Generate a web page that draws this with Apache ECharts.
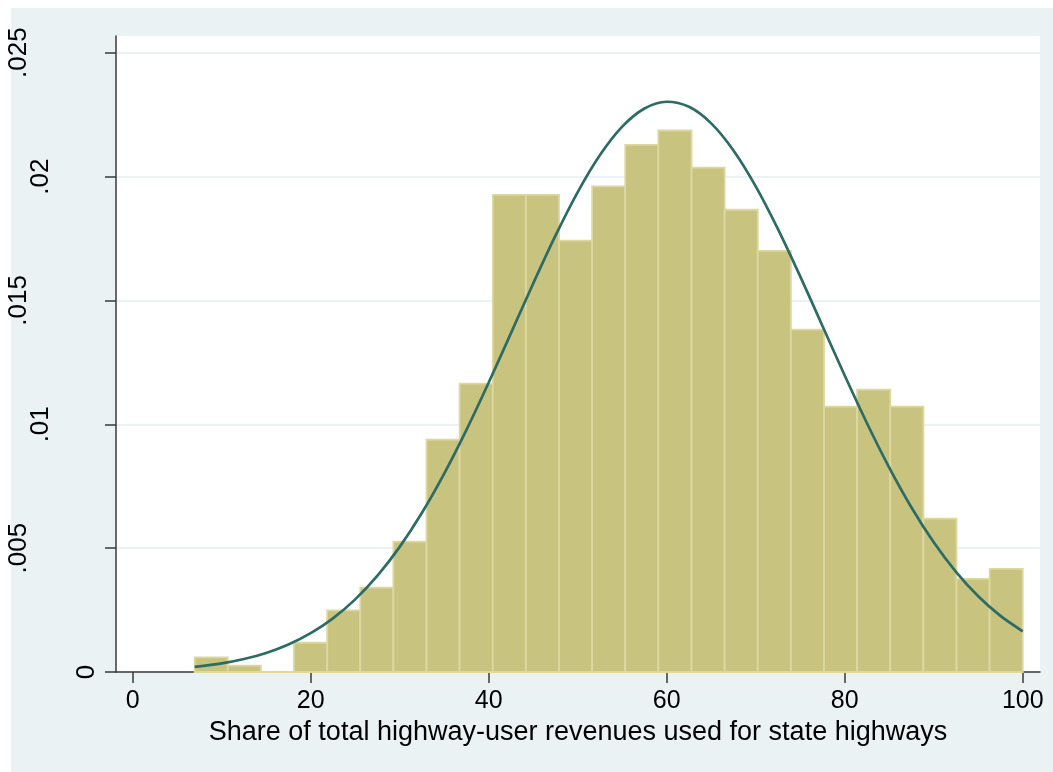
<!DOCTYPE html>
<html>
<head>
<meta charset="utf-8">
<script src="https://cdn.jsdelivr.net/npm/echarts@6/dist/echarts.min.js"></script>
<style>
  html, body { margin: 0; padding: 0; background: #ffffff; }
  #bg { position: absolute; left: 11px; top: 8px; width: 1042px; height: 764px; background: #eaf2f3; }
  #chart { position: absolute; left: 0; top: 0; width: 1053px; height: 772px; }
</style>
</head>
<body>
<div id="bg"></div>
<div id="chart"></div>
<script>
// ---- Data ----
// histogram bin edges (25 bins)
const binEdges = [6.96, 10.68, 14.40, 18.12, 21.85, 25.57, 29.29, 33.01, 36.73, 40.46,
                  44.18, 47.90, 51.62, 55.34, 59.06, 62.79, 66.51, 70.23, 73.95, 77.67,
                  81.39, 85.12, 88.84, 92.56, 96.28, 100.00];
// density of each bin
const binDensity = [0.00059, 0.00026, 0, 0.00118, 0.00249, 0.00341, 0.00526, 0.00938, 0.01164, 0.01926,
                    0.01926, 0.01741, 0.01960, 0.02128, 0.02186, 0.02036, 0.01866, 0.01700, 0.01382, 0.01071,
                    0.01140, 0.01071, 0.00619, 0.00376, 0.00416];
// normal density overlay
const curveX = [6.96, 10, 12.5, 15, 17.5, 20, 22.5, 25, 27.5, 30, 32.5, 35, 37.5, 40, 42.5, 45, 47.5, 50,
                52.5, 55, 57.5, 60, 62.5, 65, 67.5, 70, 72.5, 75, 77.5, 80, 82.5, 85, 87.5, 90, 92.5,
                95, 97.5, 100];
const curveY = [0.000206, 0.000348, 0.000523, 0.000769, 0.001109, 0.001566, 0.002165, 0.002932, 0.00389,
                0.005052, 0.006428, 0.00801, 0.009775, 0.011686, 0.013679, 0.015684, 0.017613, 0.019372,
                0.020867, 0.022014, 0.022746, 0.02302, 0.022815, 0.022147, 0.021055, 0.019606, 0.017879,
                0.015969, 0.013969, 0.011968, 0.010043, 0.008254, 0.006643, 0.005237, 0.004044, 0.003058,
                0.002264, 0.001644];
// ticks
const xTicks = [0, 20, 40, 60, 80, 100];
const yTicks = [0, 0.005, 0.01, 0.015, 0.02, 0.025];
const yTickLabels = ['0', '.005', '.01', '.015', '.02', '.025'];
const xTitle = 'Share of total highway-user revenues used for state highways';

// ---- Chart ----
const FONT = "'Liberation Sans', Arial, Helvetica, sans-serif";
const chart = echarts.init(document.getElementById('chart'), null, { renderer: 'canvas' });

const barData = binDensity.map((d, i) => [binEdges[i], binEdges[i + 1], d]);
const lineData = curveX.map((x, i) => [x, curveY[i]]);

const option = {
  backgroundColor: 'transparent',
  animation: false,
  grid: {
    left: 116, right: 13, top: 36, bottom: 100,
    show: true, backgroundColor: '#ffffff', borderWidth: 0
  },
  xAxis: {
    type: 'value',
    min: -1.876, max: 101.94,
    axisLine: { show: true, onZero: false, lineStyle: { color: '#3a3a3a', width: 1.5 } },
    axisTick: { show: true, length: 11, customValues: xTicks, lineStyle: { color: '#3a3a3a', width: 1.5 } },
    axisLabel: { customValues: xTicks, margin: 17, fontSize: 25, color: '#000', fontFamily: FONT },
    splitLine: { show: false },
    name: xTitle,
    nameLocation: 'middle',
    nameGap: 45,
    nameTextStyle: { fontSize: 27, color: '#000', fontFamily: FONT }
  },
  yAxis: {
    type: 'value',
    min: 0, max: 0.025674,
    interval: 0.005,
    axisLine: { show: true, onZero: false, lineStyle: { color: '#3a3a3a', width: 1.5 } },
    axisTick: { show: true, length: 11, customValues: yTicks, lineStyle: { color: '#3a3a3a', width: 1.5 } },
    axisLabel: { show: false },
    splitLine: { show: true, lineStyle: { color: '#eaf2f3', width: 2 } }
  },
  series: [
    {
      type: 'custom',
      data: barData,
      encode: { x: [0, 1], y: 2 },
      z: 2,
      renderItem: function (params, api) {
        const p0 = api.coord([api.value(0), api.value(2)]);
        const p1 = api.coord([api.value(1), 0]);
        return {
          type: 'rect',
          shape: { x: p0[0], y: p0[1], width: p1[0] - p0[0], height: p1[1] - p0[1] },
          style: { fill: '#c9c380', stroke: '#dcd8a0', lineWidth: 1.8 }
        };
      }
    },
    {
      type: 'line',
      data: lineData,
      smooth: 0.3,
      showSymbol: false,
      z: 3,
      lineStyle: { color: '#2c6c64', width: 2.7 }
    }
  ]
};
chart.setOption(option);

// rotated y-axis tick labels (Stata style), positioned through the axis scale
const yLabelGraphics = yTicks.map((v, i) => {
  const py = chart.convertToPixel({ yAxisIndex: 0 }, v);
  const txt = yTickLabels[i];
  return {
    type: 'text',
    x: 109.3 - 22.7 * txt.length,
    y: py,
    rotation: Math.PI / 2,
    style: {
      text: txt,
      fontSize: 26,
      fontFamily: FONT,
      fill: '#000',
      align: 'center',
      verticalAlign: 'middle'
    },
    z: 10
  };
});
chart.setOption({ graphic: yLabelGraphics });
</script>
</body>
</html>
